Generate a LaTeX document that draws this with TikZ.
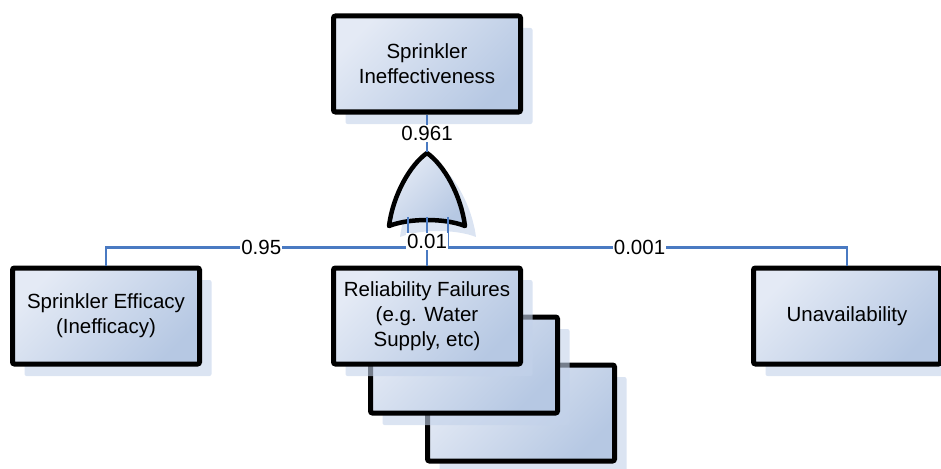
\documentclass[tikz,border=0pt]{standalone}
\usepackage{fontspec}
\setmainfont{Liberation Sans}
\usetikzlibrary{positioning, shadows, calc}
\definecolor{boxlight}{HTML}{E4EAF5}
\definecolor{boxdark}{HTML}{B6C8E3}
\definecolor{shadeblue}{HTML}{C3D2EA}
\definecolor{linkblue}{HTML}{4A7AC2}

\begin{document}
\begin{tikzpicture}[x=1pt, y=-1pt, font=\fontsize{20.5}{25}\selectfont,
    event/.style={draw=black, line width=5pt, rounded corners=2pt, top color=boxlight, bottom color=boxdark, shading angle=45,
        minimum width=187pt, minimum height=96pt, inner sep=0pt, align=center,
        drop shadow={shadow xshift=12pt, shadow yshift=-12pt, fill=shadeblue, opacity=0.6}},
    link/.style={draw=linkblue, line width=2.5pt},
    prob/.style={fill=white, inner sep=1pt}]
        \useasboundingbox (0,0) rectangle (941,468);
        % events
        \node[event] (top) at (427,64) {Sprinkler\\Ineffectiveness};
        \node[event] (eff) at (106,316) {Sprinkler Efficacy\\(Inefficacy)};
        \node[event] (rel3) at (521,413) {};
        \node[event] (rel2) at (464,365) {};
        \node[event] (rel1) at (427,316) {Reliability Failures\\(e.g. Water\\Supply, etc)};
        \node[event] (unav) at (847,316) {Unavailability};
        % or gate
        \fill[shadeblue, opacity=0.6, shift={(11,11)}] (389,226) .. controls (393,195) and (410,165) .. (427,153)
            .. controls (444,165) and (461,195) .. (465,226) .. controls (445,218) and (409,218) .. (389,226) -- cycle;
        \draw[line width=4.5pt, line join=round, top color=boxlight, bottom color=boxdark, shading angle=45]
            (389,226) .. controls (393,195) and (410,165) .. (427,153)
            .. controls (444,165) and (461,195) .. (465,226) .. controls (445,218) and (409,218) .. (389,226) -- cycle;
        \coordinate (gtip) at (427,152);
        \coordinate (gin1) at (408,217);
        \coordinate (gin2) at (427,217);
        \coordinate (gin3) at (448,217);
        % links
        \draw[link] (top.south) -- node[prob] {0.961} (gtip);
        \draw[link] (eff.north) -- ++(0,-18) -| node[prob, pos=0.257] {0.95} (gin1);
        \draw[link] (unav.north) -- ++(0,-18) -| node[prob, pos=0.26] {0.001} (gin3);
        \draw[link] (gin2) -- node[prob] {0.01} (rel1.north);
\end{tikzpicture}
\end{document}
